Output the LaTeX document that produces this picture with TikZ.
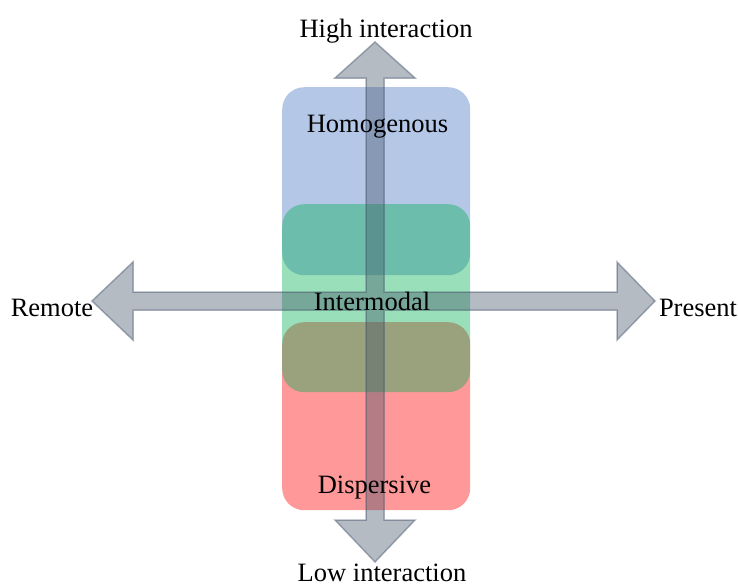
\documentclass[tikz,border=0pt]{standalone}
\usepackage{fontspec}
\setmainfont{Liberation Serif}
\definecolor{zoneblue}{HTML}{4472C4}
\definecolor{zonegreen}{HTML}{00B050}
\definecolor{zonered}{HTML}{FF0000}
\definecolor{axisgray}{HTML}{44546A}
\begin{document}
\begin{tikzpicture}[x=1pt,y=-1pt,
  lbl/.style={font=\fontsize{26.5}{30}\selectfont, inner sep=0pt, anchor=base, text=black},
  zone/.style={rounded corners=22pt, minimum width=188pt, minimum height=188pt,
    inner sep=0pt, fill opacity=0.4, draw=none, anchor=north west},
  axisshape/.style={fill=axisgray, fill opacity=0.4, draw=axisgray, draw opacity=0.45,
    line width=1.5pt, line join=miter}]
\useasboundingbox (0,0) rectangle (738,587);
% zones
\node[zone, fill=zoneblue] (homogzone) at (282,87) {};
\node[zone, fill=zonered] (dispzone) at (282,322) {};
\node[zone, fill=zonegreen] (interzone) at (282,204) {};
% axes (single cross-shaped double arrow outline)
\draw[axisshape] (375,42) -- (415,78) -- (384,78) -- (384,292) -- (617,292) -- (617,262)
  -- (655,301) -- (617,340) -- (617,310) -- (384,310) -- (384,520) -- (415,520)
  -- (375,562) -- (335,520) -- (366,520) -- (366,310) -- (133,310) -- (133,340)
  -- (92,301) -- (133,262) -- (133,292) -- (366,292) -- (366,78) -- (335,78) -- cycle;
% labels
\node[lbl] (high) at (386,37) {High interaction};
\node[lbl] (low) at (382,581.5) {Low interaction};
\node[lbl] (remote) at (52,316.5) {Remote};
\node[lbl] (present) at (698,316) {Present};
\node[lbl] (homog) at (377.5,132.5) {Homogenous};
\node[lbl] (inter) at (372,310) {Intermodal};
\node[lbl] (disp) at (374.5,493) {Dispersive};
\end{tikzpicture}
\end{document}
